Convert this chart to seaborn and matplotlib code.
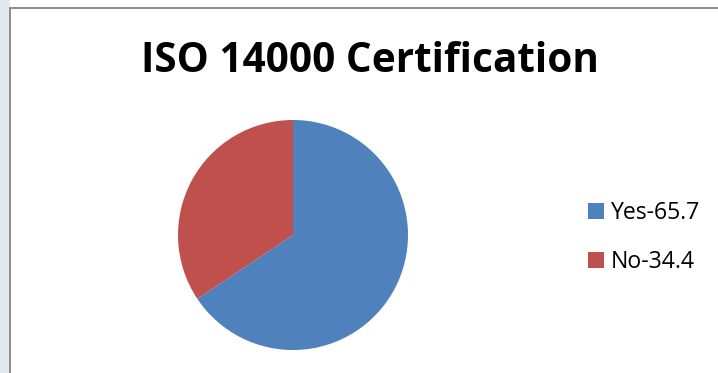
import matplotlib
matplotlib.use("Agg")
import matplotlib.pyplot as plt
from matplotlib.patches import Patch, Rectangle
import seaborn as sns

# Survey share of firms holding ISO 14000 certification
labels = ["Yes-65.7", "No-34.4"]
shares = [65.7, 34.4]
title = "ISO 14000 Certification"

sns.set_theme(style="white")
plt.rcParams["font.family"] = ["Open Sans", "DejaVu Sans"]
plt.rcParams["text.color"] = "black"
colors = sns.color_palette(["#4F81BD", "#C0504D"])

W, H = 718, 373
fig = plt.figure(figsize=(W / 100, H / 100), dpi=100)
fig.patch.set_facecolor("white")

# light page strip outside the chart frame
fig.add_artist(Rectangle((0, 0), 10 / W, 1, transform=fig.transFigure,
                         facecolor="#e4e9ec", edgecolor="none", zorder=0))
# chart frame
fig.add_artist(Rectangle((10 / W, -0.05), 1.0, 1 - 8 / H + 0.05,
                         transform=fig.transFigure, facecolor="none",
                         edgecolor="#8c8c8c", linewidth=1.4, zorder=1))

cx, cy, r = 293, 235, 115
ax = fig.add_axes([(cx - r) / W, (H - cy - r) / H, 2 * r / W, 2 * r / H])
wedges, _ = ax.pie(shares, colors=colors, startangle=90, counterclock=False,
                   wedgeprops=dict(linewidth=0))
ax.set_xlim(-1, 1)
ax.set_ylim(-1, 1)
ax.set_aspect("equal")
ax.axis("off")

fig.text(370 / W, 1 - 61 / H, title, ha="center", va="center",
         fontsize=29.2, fontweight="bold", color="black")

handles = [Patch(facecolor=c, edgecolor="none") for c in colors]
leg = fig.legend(handles, labels, loc="upper left",
                 bbox_to_anchor=(567 / W, 1 - 180 / H), frameon=False,
                 fontsize=16.6, handlelength=0.7, handleheight=0.7,
                 handletextpad=0.3, labelspacing=1.08)
for t in leg.get_texts():
    t.set_color("black")

fig.savefig("out.png", dpi=100)
